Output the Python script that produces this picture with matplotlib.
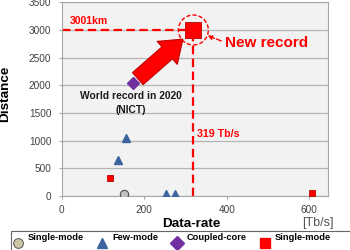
import matplotlib
matplotlib.use("Agg")
import matplotlib.pyplot as plt
from matplotlib.lines import Line2D
from matplotlib.patches import Ellipse

plt.rcParams['font.family'] = ['Liberation Sans', 'DejaVu Sans']

# data (Tb/s, km)
sm_x = [150]
sm_y = [45]
fm_x = [136, 157, 252, 274]
fm_y = [650, 1040, 45, 45]
cc_x = [172]
cc_y = [2040]
red_x = [116, 607]
red_y = [320, 55]
new_x = 319
new_y = 3001

xticks = [0, 200, 400, 600]
yticks = [0, 500, 1000, 1500, 2000, 2500, 3000, 3500]

red = '#ff0000'
dred = '#c00000'
blue = '#3b64a0'
purple = '#7030a0'
grid = '#b4b4b4'

fig = plt.figure(figsize=(3.5, 2.5), dpi=100)
ax = fig.add_axes([0.1763, 0.216, 0.7617, 0.7744])
ax.set_facecolor('#f2f2f2')
ax.set_xlim(0, 646)
ax.set_ylim(0, 3500)
ax.set_xticks(xticks)
ax.set_yticks(yticks)
ax.yaxis.grid(True, color=grid, lw=0.9)
ax.set_axisbelow(True)
for s in ax.spines.values():
    s.set_color('#a6a6a6')
    s.set_linewidth(0.8)
ax.tick_params(axis='both', labelsize=7.2, labelcolor='#404040', color='#a6a6a6',
               length=2.5, width=0.8)
ax.tick_params(axis='y', pad=5)
ax.tick_params(axis='x', pad=4)

# dashed guide lines to the new record
ax.plot([0, new_x], [new_y, new_y], color=red, lw=1.6, ls=(0, (3.8, 2)), zorder=2)
ax.plot([new_x, new_x], [0, new_y], color=red, lw=1.6, ls=(0, (3.8, 2)), zorder=2)

ax.plot(sm_x, sm_y, 'o', ms=6, mfc='#c0c0c0', mec='#505050', mew=0.8, zorder=3)
ax.plot(fm_x, fm_y, '^', ms=6, mfc=blue, mec=blue, zorder=3)
ax.plot(cc_x, cc_y, 'D', ms=6.5, mfc=purple, mec=purple, zorder=3)
ax.plot(red_x, red_y, 's', ms=5, mfc=red, mec=dred, mew=0.6, zorder=3)
ax.plot([new_x], [new_y], 's', ms=12, mfc=red, mec=dred, mew=0.6, zorder=4)

# dashed circle round the new record (radius ~15 px)
ax.add_patch(Ellipse((new_x, new_y), 2 * 36.3, 2 * 271, fill=False, ec=red,
                     lw=1.0, ls=(0, (3, 1.5)), zorder=4))

# big block arrow
ax.annotate('', xy=(new_x, new_y), xytext=(-40, -35), textcoords='offset points',
            arrowprops=dict(arrowstyle='simple,head_width=2.2,head_length=1.5,tail_width=1.15',
                            mutation_scale=10, fc=red, ec=dred, lw=0.8,
                            shrinkA=0, shrinkB=10), zorder=5)

ax.annotate('New record', xy=(new_x, new_y), xytext=(23, -9), textcoords='offset points',
            ha='left', va='center', fontsize=11, fontweight='bold', color=red,
            arrowprops=dict(arrowstyle='-|>', color=red, lw=1.0, ls='--',
                            mutation_scale=6, relpos=(0, 0.5), shrinkA=1, shrinkB=11))

ax.text(20, 3160, '3001km', fontsize=7.5, fontweight='bold', color=red, ha='left', va='center')
ax.text(new_x + 10, 1120, '319 Tb/s', fontsize=7.7, fontweight='bold', color=red,
        ha='left', va='center')
ax.text(cc_x[0] - 4, 1680, 'World record in 2020\n(NICT)', fontsize=7.4, fontweight='bold',
        color='#1a1a1a', ha='center', va='center', linespacing=1.45)

fig.text(5 / 350, 1 - 94 / 250, 'Distance', rotation=90, fontsize=9.7, fontweight='bold',
         ha='center', va='center')
fig.text(191 / 350, 1 - 224 / 250, 'Data-rate', fontsize=9.7, fontweight='bold',
         ha='center', va='center')
fig.text(318 / 350, 1 - 222.7 / 250, '[Tb/s]', fontsize=9, color='#555555',
         ha='center', va='center')

handles = [
    Line2D([], [], ls='none', marker='o', ms=7, mfc='#cfc6a5', mec='#505050', mew=0.7),
    Line2D([], [], ls='none', marker='^', ms=7, mfc=blue, mec=blue),
    Line2D([], [], ls='none', marker='D', ms=7, mfc=purple, mec=purple),
    Line2D([], [], ls='none', marker='s', ms=7, mfc=red, mec=red),
]
labels = ['Single-mode\n ', 'Few-mode\n ', 'Coupled-core\n ',
          'Single-mode\n' + '\u00a0' * 30]
leg = fig.legend(handles, labels, loc='upper left', bbox_to_anchor=(11 / 350, 1 - 231 / 250),
                 ncol=4, fontsize=6.7, frameon=True, fancybox=False, edgecolor='#404040',
                 handlelength=1.0, handletextpad=0.55, columnspacing=1.5,
                 borderpad=0.25, borderaxespad=0)
leg.get_frame().set_linewidth(0.8)
for t in leg.get_texts():
    t.set_fontweight('bold')

fig.savefig('out.png', dpi=100)
